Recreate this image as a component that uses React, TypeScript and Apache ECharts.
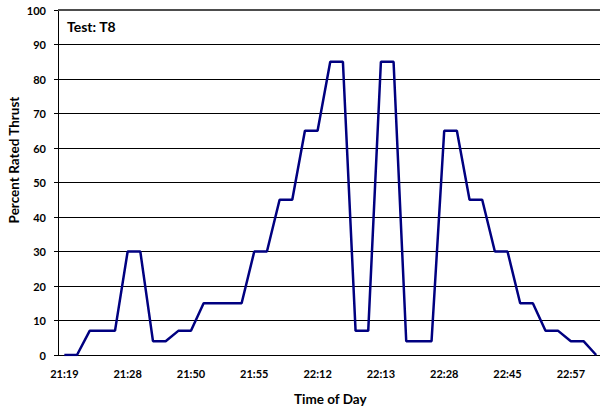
import React, { useEffect, useRef } from "react";
import * as echarts from "echarts";

const tickLabels = ["21:19", "21:28", "21:50", "21:55", "22:12", "22:13", "22:28", "22:45", "22:57"];
const thrustValues = [
  0, 0, 7, 7, 7, 30, 30, 4, 4, 7,
  7, 15, 15, 15, 15, 30, 30, 45, 45, 65,
  65, 85, 85, 7, 7, 85, 85, 4, 4, 4,
  65, 65, 45, 45, 30, 30, 15, 15, 7, 7,
  4, 4, 0,
];
const categories = thrustValues.map((_, i) => (i % 5 === 0 ? tickLabels[i / 5] : " ".repeat(i % 5) + String(i)));
const yTicks = { min: 0, max: 100, interval: 10 };
const chartTitle = "Test: T8";
const xTitle = "Time of Day";
const yTitle = "Percent Rated Thrust";

const FONT = "Lato, 'Open Sans', sans-serif";

export default function App() {
  const ref = useRef<HTMLDivElement>(null);
  useEffect(() => {
    const chart = echarts.init(ref.current!, null, { renderer: "svg" });
    chart.setOption({
      animation: false,
      backgroundColor: "#ffffff",
      textStyle: { fontFamily: FONT },
      grid: { left: 58, right: -2.5, top: 10, bottom: 59, containLabel: false, outerBoundsMode: "none" },
      graphic: [
        {
          type: "text",
          left: 67,
          top: 19,
          style: { text: chartTitle, font: `bold 14px ${FONT}`, fill: "#000" },
        },
        {
          type: "text",
          x: 14,
          y: 160,
          rotation: Math.PI / 2,
          style: {
            text: yTitle,
            font: `bold 13.5px ${FONT}`,
            fill: "#000",
            align: "center",
            verticalAlign: "middle",
          },
        },
      ],
      xAxis: {
        type: "category",
        data: categories,
        boundaryGap: true,
        name: xTitle,
        nameLocation: "middle",
        nameGap: 37,
        nameTextStyle: { fontSize: 13.5, fontWeight: "bold", color: "#000", fontFamily: FONT },
        axisLine: { lineStyle: { color: "#000", width: 1 } },
        axisTick: { interval: 0, length: 4, lineStyle: { color: "#000" } },
        axisLabel: {
          interval: 4,
          margin: 13,
          fontSize: 11,
          fontWeight: "bold",
          color: "#000",
          fontFamily: FONT,
          formatter: (v: string) => (v.trim() === v ? v : ""),
        },
        splitLine: { show: false },
      },
      yAxis: {
        type: "value",
        min: yTicks.min,
        max: yTicks.max,
        interval: yTicks.interval,
        axisLine: { show: true, lineStyle: { color: "#000", width: 1 } },
        axisTick: { show: true, length: 4, inside: false, lineStyle: { color: "#000" } },
        axisLabel: { margin: 12, fontSize: 11, fontWeight: "bold", color: "#000", fontFamily: FONT },
        splitLine: { show: true, lineStyle: { color: "#000", width: 1 } },
      },
      series: [
        {
          type: "line",
          data: thrustValues,
          symbol: "none",
          lineStyle: { color: "#000080", width: 2.5 },
          itemStyle: { color: "#000080" },
          markLine: {
            silent: true,
            symbol: "none",
            label: { show: false },
            lineStyle: { color: "#4d4d4d", width: 2, type: "solid" },
            data: [{ yAxis: yTicks.max }],
          },
        },
      ],
    });
    return () => chart.dispose();
  }, []);
  return <div ref={ref} style={{ position: "fixed", left: 0, top: 0, width: 600, height: 414 }} />;
}
